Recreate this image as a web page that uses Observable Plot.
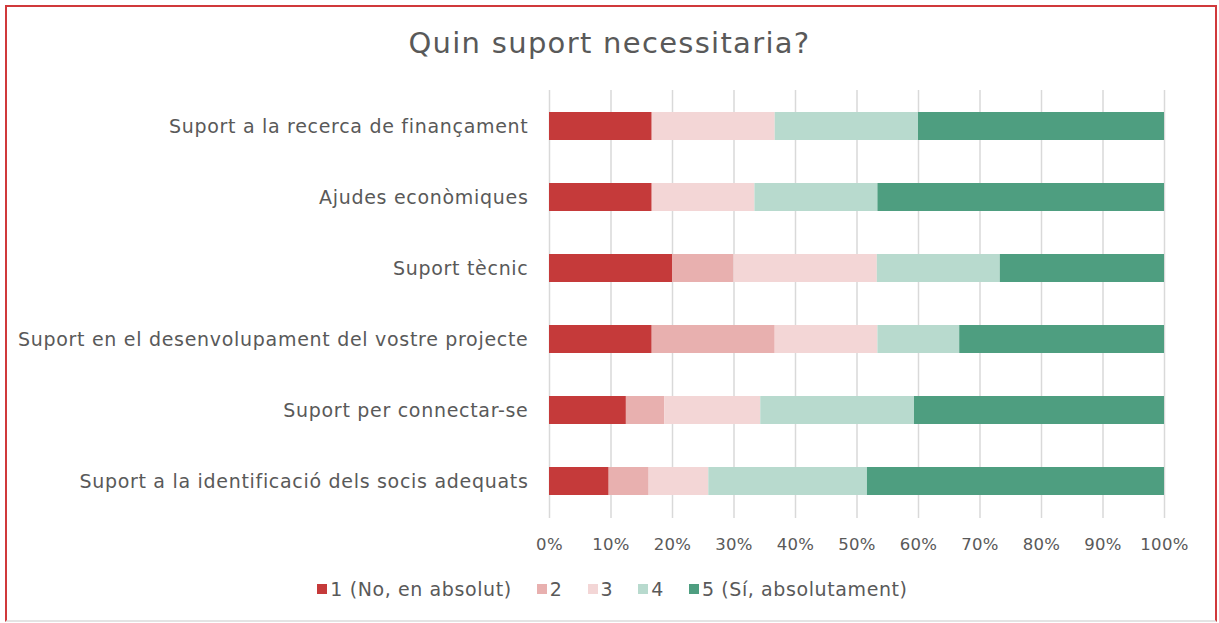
<!DOCTYPE html>
<html>
<head>
<meta charset="utf-8">
<script src="https://cdn.jsdelivr.net/npm/d3@7"></script>
<script src="https://cdn.jsdelivr.net/npm/@observablehq/plot@0.6"></script>
<style>
  html, body { margin: 0; padding: 0; background: #fff; }
  body { width: 1219px; height: 623px; position: relative; overflow: hidden; font-family: "DejaVu Sans", sans-serif; }
  #frame { position: absolute; left: 5px; top: 5px; width: 1208px; height: 613px;
    border-left: 2px solid #d0393b; border-top: 2px solid #d0393b; border-right: 2px solid #d0393b; border-bottom: 2px solid #e4e4e4; }
  #title { position: absolute; left: 0; top: 26px; width: 1219px; text-align: center; font-size: 29px; letter-spacing: 1.3px; color: #595959; }
  #chart { position: absolute; left: 0; top: 0; }
  #chart svg g[aria-label="y-axis tick label"] text { letter-spacing: 0.7px; }
  #chart svg g[aria-label="x-axis tick label"] text { letter-spacing: 0.3px; }
  #legend { position: absolute; left: 0; top: 578px; width: 1219px; display: flex; justify-content: center; gap: 25px; font-size: 19px; letter-spacing: 0.6px; color: #595959; padding-left: 6px; box-sizing: border-box; }
  .item { display: flex; align-items: center; gap: 3px; }
  .sw { width: 10px; height: 10px; display: inline-block; }
</style>
</head>
<body>
<div id="frame"></div>
<div id="title">Quin suport necessitaria?</div>
<div id="chart"></div>
<div id="legend"></div>
<script>
const categories = [
  "Suport a la recerca de finançament",
  "Ajudes econòmiques",
  "Suport tècnic",
  "Suport en el desenvolupament del vostre projecte",
  "Suport per connectar-se",
  "Suport a la identificació dels socis adequats"
];
const levels = ["1 (No, en absolut)", "2", "3", "4", "5 (Sí, absolutament)"];
const colors = ["#c53a3a", "#e8b0af", "#f3d6d6", "#b8dace", "#4e9e80"];
const v1 = [16.7, 16.7, 20.0, 16.7, 12.5, 9.7];
const v2 = [0, 0, 10.0, 20.0, 6.25, 6.5];
const v3 = [20.0, 16.7, 23.3, 16.7, 15.6, 9.7];
const v4 = [23.3, 20.0, 20.0, 13.3, 25.0, 25.8];
const v5 = [40.0, 46.6, 26.7, 33.3, 40.65, 48.3];
const tickValues = [0, 10, 20, 30, 40, 50, 60, 70, 80, 90, 100];

const series = [v1, v2, v3, v4, v5];
const data = [];
categories.forEach((c, i) => {
  series.forEach((s, k) => data.push({category: c, level: levels[k], value: s[i]}));
});

const chart = Plot.plot({
  width: 1219,
  height: 560,
  marginTop: 90,
  marginBottom: 42,
  marginLeft: 549,
  marginRight: 55,
  style: { fontFamily: "DejaVu Sans, sans-serif", fontSize: "16.5px", color: "#595959", background: "transparent" },
  x: { domain: [0, 100], label: null },
  y: { domain: categories, paddingInner: 0.6, paddingOuter: 0.3, label: null },
  color: { domain: levels, range: colors },
  marks: [
    Plot.gridX(tickValues, { stroke: "#d9d9d9", strokeOpacity: 1, strokeWidth: 1.5 }),
    Plot.barX(data, Plot.stackX({
      x: "value", y: "category", fill: "level", order: levels, inset: 0
    })),
    Plot.axisX({ ticks: tickValues, tickFormat: d => d + "%", tickSize: 0, tickPadding: 20, fill: "#595959", fontSize: 16.5 }),
    Plot.axisY({ tickSize: 0, tickPadding: 21, fill: "#595959", fontSize: 19 })
  ]
});
document.getElementById("chart").appendChild(chart);

const legend = document.getElementById("legend");
levels.forEach((l, i) => {
  const it = document.createElement("div");
  it.className = "item";
  const sw = document.createElement("span");
  sw.className = "sw";
  sw.style.background = colors[i];
  const t = document.createElement("span");
  t.textContent = l;
  it.appendChild(sw); it.appendChild(t);
  legend.appendChild(it);
});
</script>
</body>
</html>
